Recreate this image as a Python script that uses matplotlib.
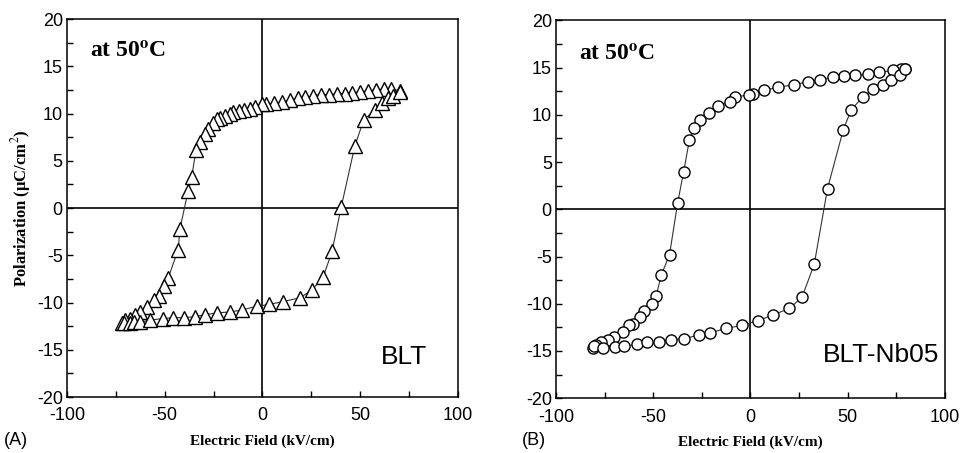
import matplotlib
matplotlib.use('Agg')
import matplotlib.pyplot as plt
from matplotlib.ticker import MultipleLocator

# BLT loop (kV/cm, uC/cm^2), one closed sweep
blt_field = [70.3, 66, 62, 58, 54, 50, 46, 42, 38, 34, 30, 26, 22, 18, 14, 10, 6, 2, -0.4,
             -4, -6.4, -9.5, -12, -14.9, -16.6, -19, -21.7, -23.4, -25.5, -27.7, -29.5, -32,
             -34, -36.2, -38, -42.2, -43.1, -48.2, -50.2, -52.8, -55.5, -59.2, -62.7, -65.2,
             -67.8, -70.3, -72,
             -71, -68, -65.5, -62.7, -57.5, -50.7, -45.6, -40.2, -34.5, -29.4, -23.4, -16.6,
             -10.6, -3.0, 3.5, 10.6, 19.2, 25.2, 31.1, 35.6, 40.3, 47.3, 51.8, 57.5, 61, 64,
             67, 70.3]
blt_pol = [12.4, 12.6, 12.6, 12.5, 12.4, 12.3, 12.2, 12.1, 12.1, 12.0, 12.0, 11.9, 11.7,
           11.6, 11.4, 11.2, 11.1, 11.0, 11.0, 10.7, 10.5, 10.4, 10.3, 10.2, 9.9, 9.7, 9.5,
           9.4, 9.0, 8.4, 7.8, 7.0, 6.1, 3.3, 1.8, -2.2, -4.4, -7.4, -8.3, -9.3, -9.7, -10.5,
           -11.0, -11.3, -11.7, -11.9, -12.2,
           -12.2, -12.2, -12.1, -12.1, -11.85, -11.7, -11.6, -11.6, -11.5, -11.3, -11.1,
           -11.0, -10.8, -10.4, -10.2, -9.9, -9.5, -8.7, -7.3, -4.6, 0.1, 6.6, 9.3, 10.4,
           11.1, 11.6, 11.9, 12.3]

# BLT-Nb05 loop
nb_field = [79.7, 77.5, 73.2, 66.3, 60.3, 54, 48.3, 42.3, 35.8, 29.5, 22.6, 14.0, 7.2, 1.2,
            -0.9, -7.7, -10.4, -16.8, -21.4, -25.9, -28.8, -31.4, -34.4, -37.4, -41.6,
            -45.9, -48.5, -50.6, -54.5, -56.6, -60.5, -62.2, -65.7, -70.4, -73.4, -76.8,
            -79.3, -81.1,
            -80.5, -75.9, -69.9, -64.8, -58.5, -53.3, -46.8, -40.8, -33.9, -26.6, -20.7,
            -12.5, -4.3, 3.8, 11.5, 20.1, 26.6, 32.9, 39.7, 47.8, 51.8, 57.8, 63.2, 68,
            72.3, 77, 79.7]
nb_pol = [14.8, 14.9, 14.7, 14.5, 14.3, 14.2, 14.1, 14.0, 13.7, 13.5, 13.2, 12.9, 12.6, 12.2,
          12.1, 11.9, 11.4, 10.9, 10.2, 9.5, 8.6, 7.3, 3.9, 0.7, -4.8, -7.0, -9.2, -10.0,
          -10.8, -11.4, -12.1, -12.3, -13.0, -13.5, -13.8, -14.0, -14.4, -14.7,
          -14.5, -14.7, -14.6, -14.5, -14.3, -14.1, -14.1, -13.8, -13.7, -13.3, -13.1,
          -12.6, -12.3, -11.8, -11.2, -10.5, -9.3, -5.8, 2.2, 8.4, 10.5, 11.9, 12.7, 13.2,
          13.7, 14.2, 14.8]

xticks = [-100, -50, 0, 50, 100]
yticks = [-20, -15, -10, -5, 0, 5, 10, 15, 20]

plt.rcParams['font.family'] = ['Liberation Sans', 'DejaVu Sans']
plt.rcParams['mathtext.fontset'] = 'stix'
plt.rcParams['axes.unicode_minus'] = False

fig = plt.figure(figsize=(9.62, 4.53), dpi=100)
ax1 = fig.add_axes([0.0696, 0.1236, 0.4064, 0.8344])
ax2 = fig.add_axes([0.578, 0.121, 0.404, 0.834])

serif_bold = dict(family='Liberation Serif', weight='bold')


def style_axes(ax):
    ax.set_xlim(-100, 100)
    ax.set_ylim(-20, 20)
    ax.set_xticks(xticks)
    ax.set_yticks(yticks)
    ax.xaxis.set_minor_locator(MultipleLocator(25))
    ax.yaxis.set_minor_locator(MultipleLocator(2.5))
    ax.tick_params(which='both', direction='in', top=False, right=False,
                   length=4, width=1, labelsize=13)
    ax.tick_params(axis='x', pad=7.5)
    ax.tick_params(axis='y', pad=3)
    for s in ax.spines.values():
        s.set_linewidth(1.1)
    ax.axhline(0, color='black', linewidth=1.2, zorder=1)
    ax.axvline(0, color='black', linewidth=1.2, zorder=1)
    ax.set_xlabel('Electric Field (kV/cm)', fontsize=11, labelpad=7, **serif_bold)


# (A) BLT
style_axes(ax1)
ax1.plot(blt_field, blt_pol, color='#333333', linewidth=0.8, marker='^', markersize=9.5,
         markerfacecolor='white', markeredgecolor='black', markeredgewidth=1.0, zorder=3)
ax1.text(0.058, 0.912, r'at 50$^{\mathbf{o}}$C', transform=ax1.transAxes, fontsize=17,
         va='center', ha='left', **serif_bold)
ax1.text(0.92, 0.106, 'BLT', transform=ax1.transAxes, fontsize=19, va='center', ha='right')
ax1.set_ylabel('Polarization (μC/cm$^2$)', fontsize=12, labelpad=3, **serif_bold)
fig.text(0.004, 0.028, '(A)', fontsize=13, ha='left', va='center')

# (B) BLT-Nb05
style_axes(ax2)
ax2.plot(nb_field, nb_pol, color='#333333', linewidth=0.8, marker='o', markersize=8,
         markerfacecolor='white', markeredgecolor='black', markeredgewidth=1.0, zorder=3)
ax2.text(0.06, 0.907, r'at 50$^{\mathbf{o}}$C', transform=ax2.transAxes, fontsize=17,
         va='center', ha='left', **serif_bold)
ax2.text(0.987, 0.114, 'BLT-Nb05', transform=ax2.transAxes, fontsize=19, va='center',
         ha='right')
fig.text(0.542, 0.028, '(B)', fontsize=13, ha='left', va='center')

fig.savefig('out.png', dpi=100)
